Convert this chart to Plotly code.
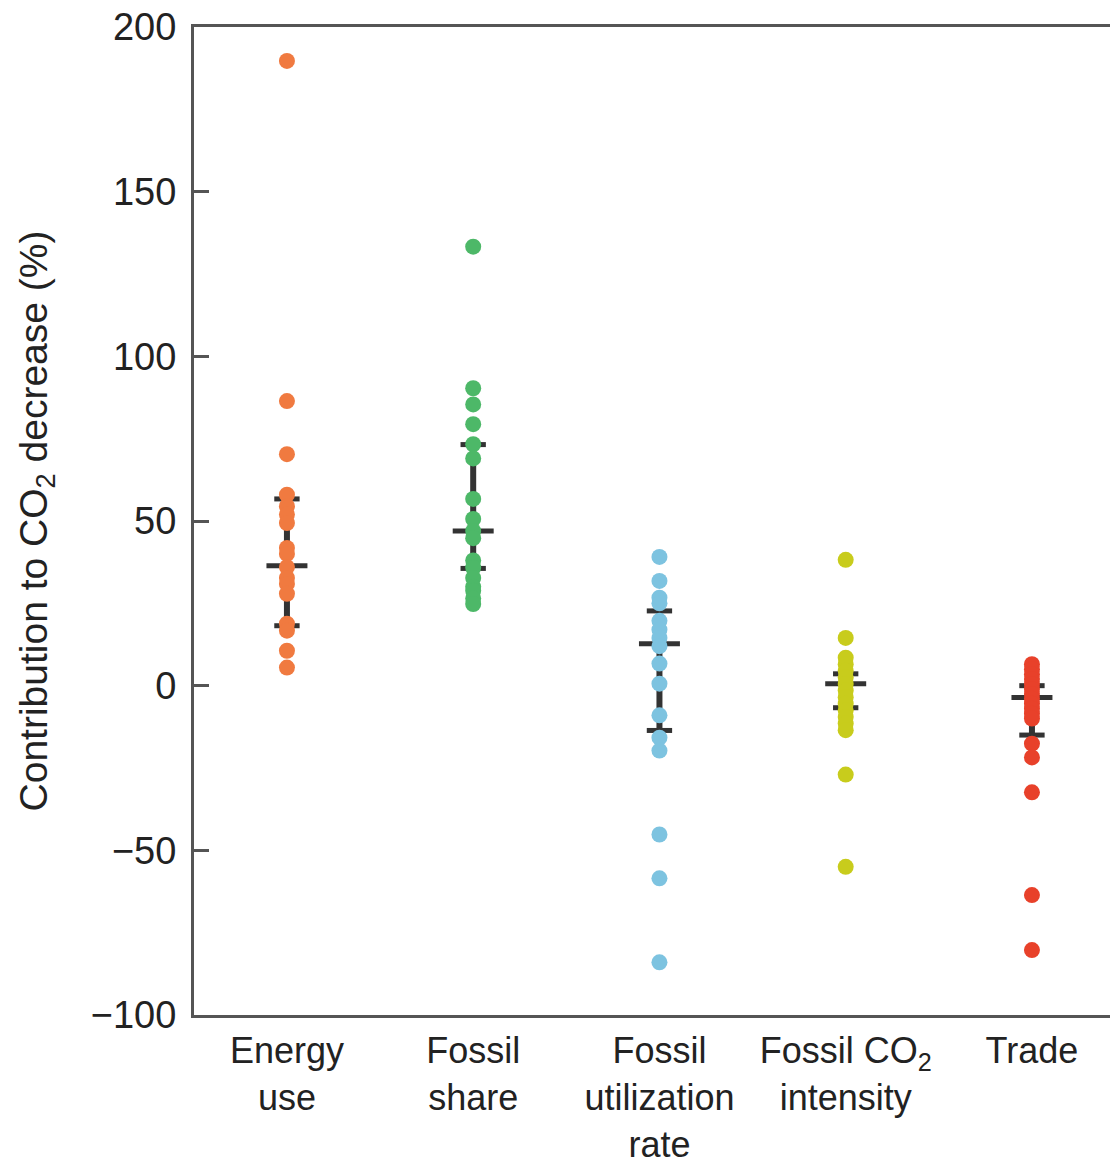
import plotly.graph_objects as go

categories = ["Energy<br>use", "Fossil<br>share", "Fossil<br>utilization<br>rate",
              "Fossil CO<sub>2</sub><br>intensity", "Trade"]

energy_use = [189.7, 86.4, 70.3, 58.0, 54.5, 52.0, 49.4, 41.8, 40.0, 36.0, 32.7,
              30.9, 27.9, 18.8, 16.7, 10.6, 5.5]
fossil_share = [133.3, 90.3, 85.4, 79.4, 73.3, 69.0, 56.7, 50.6, 47.0, 44.8, 38.0,
                35.8, 32.7, 30.0, 28.8, 26.5, 24.8]
fossil_utilization = [39.1, 31.8, 26.7, 25.0, 19.7, 17.0, 14.5, 12.0, 6.7, 0.6,
                      -9.0, -15.8, -19.7, -45.2, -58.5, -84.0]
fossil_co2_intensity = [38.2, 14.5, 8.5, 6.5, 4.5, 2.5, 0.5, -1.5, -3.5, -5.5,
                        -7.5, -9.5, -11.5, -13.5, -27.0, -55.0]
trade = [6.5, 5.0, 3.5, 2.0, 0.5, -1.0, -2.5, -4.0, -5.5, -7.0, -8.5, -10.0,
         -17.6, -21.8, -32.4, -63.6, -80.3]

medians = [36.4, 47.0, 12.7, 0.6, -3.6]
lower_q = [18.2, 35.6, -13.6, -6.7, -15.0]
upper_q = [56.7, 73.2, 22.7, 3.6, 0.0]

colors = ["#F07A40", "#4DB868", "#7DC3E0", "#C8CC1C", "#E8412A"]

series = [energy_use, fossil_share, fossil_utilization, fossil_co2_intensity, trade]

fig = go.Figure()

line_color = "#333333"
cap_hw = 0.068
med_hw = 0.11

for i, vals in enumerate(series):
    fig.add_trace(go.Scatter(x=[i, i], y=[lower_q[i], upper_q[i]], mode="lines",
                             line=dict(color=line_color, width=6), showlegend=False,
                             hoverinfo="skip"))
    for yv, hw in [(lower_q[i], cap_hw), (upper_q[i], cap_hw), (medians[i], med_hw)]:
        fig.add_trace(go.Scatter(x=[i - hw, i + hw], y=[yv, yv], mode="lines",
                                 line=dict(color=line_color, width=5), showlegend=False,
                                 hoverinfo="skip"))

for i, vals in enumerate(series):
    fig.add_trace(go.Scatter(x=[i] * len(vals), y=vals, mode="markers",
                             marker=dict(color=colors[i], size=16, line=dict(width=0)),
                             showlegend=False))

fig.update_layout(
    width=1110, height=1154,
    margin=dict(l=186, r=0, t=19, b=147),
    plot_bgcolor="white", paper_bgcolor="white",
    font=dict(family="Liberation Sans, Arial, sans-serif", size=38, color="#222222"),
)
fig.update_xaxes(
    range=[-0.499, 4.462], tickvals=list(range(5)), ticktext=categories,
    tickfont=dict(size=36),
    showline=True, linecolor="#555555", linewidth=3, mirror=True,
    ticks="", showgrid=False, zeroline=False, ticklabelstandoff=2,
    automargin=False, ticklabeloverflow="allow",
)
fig.update_yaxes(
    range=[-100, 200], tickvals=[-100, -50, 0, 50, 100, 150, 200],
    tickfont=dict(size=38),
    showline=True, linecolor="#555555", linewidth=3,
    ticks="inside", ticklen=15, tickwidth=3, tickcolor="#555555",
    showgrid=False, zeroline=False, ticklabelstandoff=7,
    automargin=False, ticklabeloverflow="allow",
    title=dict(text="Contribution to CO<sub>2</sub> decrease (%)",
               font=dict(size=39), standoff=32),
)

fig.write_html("out.html")
